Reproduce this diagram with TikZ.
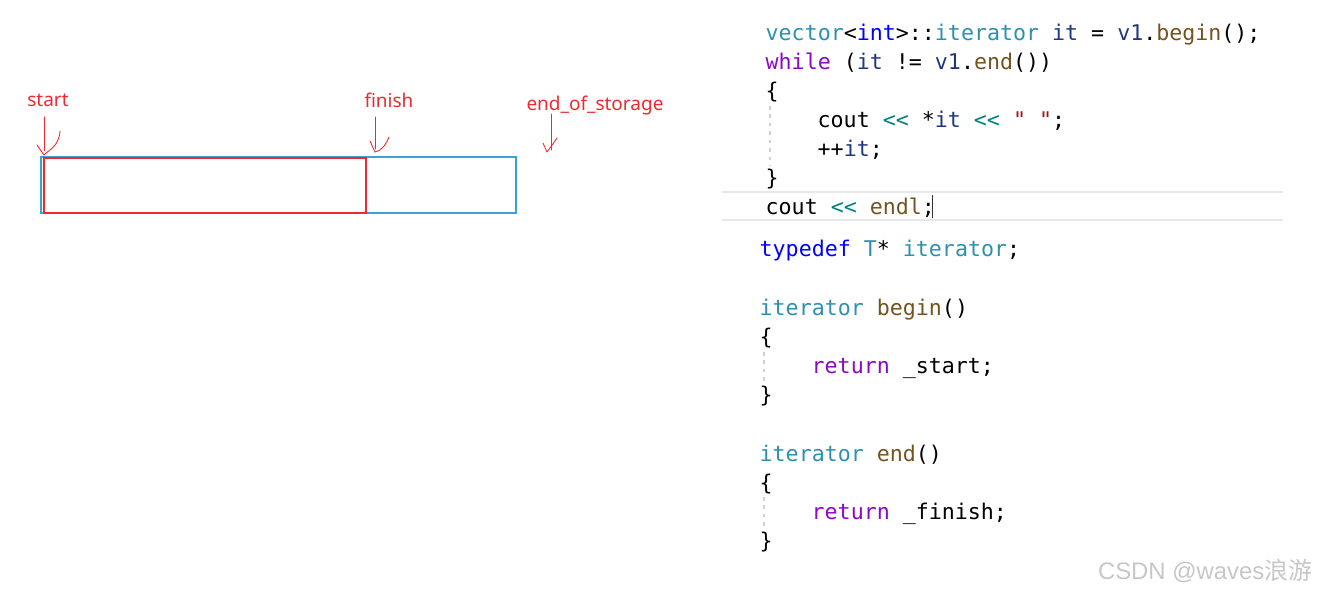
\documentclass[tikz,border=0pt]{standalone}
\usepackage{fontspec}
\setmainfont{Noto Sans}
\setmonofont{DejaVu Sans Mono}
\newfontfamily\wmfont{Liberation Sans}
\newfontfamily\cjk{Noto Sans CJK SC}
\usepackage{tikz}

\definecolor{cType}{HTML}{2B91AF}
\definecolor{cKey}{HTML}{0000FF}
\definecolor{cCtl}{HTML}{8F08C4}
\definecolor{cVar}{HTML}{1F377F}
\definecolor{cFun}{HTML}{74531F}
\definecolor{cOpr}{HTML}{008080}
\definecolor{cStr}{HTML}{A31515}
\definecolor{markred}{HTML}{EE2A30}
\definecolor{boxblue}{HTML}{3AA3D3}
\definecolor{guide}{HTML}{D0D0D0}
\definecolor{sepline}{HTML}{E6E8EC}

\newcommand\ty[1]{\textcolor{cType}{#1}}
\newcommand\kw[1]{\textcolor{cKey}{#1}}
\newcommand\ctl[1]{\textcolor{cCtl}{#1}}
\newcommand\var[1]{\textcolor{cVar}{#1}}
\newcommand\fun[1]{\textcolor{cFun}{#1}}
\newcommand\opr[1]{\textcolor{cOpr}{#1}}
\newcommand\str[1]{\textcolor{cStr}{#1}}

\begin{document}
\begin{tikzpicture}[x=0.01cm, y=-0.01cm]
\tikzstyle{code} = [anchor=base west, inner sep=0pt, font=\ttfamily\fontsize{6.15pt}{7pt}\selectfont]
\tikzstyle{ptrlabel} = [anchor=base, inner sep=0pt, text=markred, font=\fontsize{5.4pt}{6pt}\selectfont]
\tikzstyle{hand} = [draw=markred, line width=0.25pt, line cap=round, line join=round]
\tikzstyle{indent} = [draw=guide, line width=0.3pt, dash pattern=on 1pt off 1.4pt]
\useasboundingbox (0,0) rectangle (1317,593);

% the vector storage
\draw[boxblue, line width=0.35pt] (41,157) rectangle (516,213);
\draw[markred, line width=0.5pt] (44,158) rectangle (366,213);

% pointer labels
\node[ptrlabel] (start) at (48,106) {start};
\node[ptrlabel] (finish) at (389,107) {finish};
\node[ptrlabel] (storage) at (595,110) {end\_of\_storage};

% hand drawn arrows
\coordinate (tip_s) at (44,155);
\coordinate (tip_f) at (375,152);
\coordinate (tip_e) at (547,152);
\path[hand] (44,117) -- (44,151);
\path[hand] (37,145) -- (tip_s);
\path[hand] (60,131) .. controls (59,146) and (50,149) .. (tip_s);
\path[hand] (375,117) -- (375,149);
\path[hand] (370,141) -- (tip_f);
\path[hand] (389,137) .. controls (385,147) and (380,151) .. (tip_f);
\path[hand] (551,114) -- (551,150);
\path[hand] (543,143) -- (tip_e);
\path[hand] (557,138) .. controls (553,144) and (550,148) .. (tip_e);

% loop over the vector
\node[code] (l1) at (765,40) {\ty{vector}<\kw{int}>::\ty{iterator} \var{it} = \var{v1}.\fun{begin}();};
\node[code] (l2) at (765,69) {\ctl{while} (\var{it} != \var{v1}.\fun{end}())};
\node[code] (l3) at (765,98) {\{};
\node[code] (l4) at (817,127) {cout \opr{<<} *\var{it} \opr{<<} \str{" "};};
\node[code] (l5) at (817,156) {++\var{it};};
\node[code] (l6) at (765,185) {\}};
\node[code] (l7) at (765,214) {cout \opr{<<} \fun{endl};};
\path[indent] (770,106) -- (770,166);
\draw[sepline, line width=0.5pt] (722,192) -- (1283,192);
\draw[sepline, line width=0.5pt] (722,220) -- (1283,220);
\draw[black!80, line width=0.3pt] ([xshift=-1]l7.base east) ++(0,4) -- ++(0,-23);

% iterator inside vector
\node[code] (t1) at (759,256) {\kw{typedef} \ty{T}* \ty{iterator};};
\node[code] (b1) at (759,315) {\ty{iterator} \fun{begin}()};
\node[code] (b2) at (759,344) {\{};
\node[code] (b3) at (811,373) {\ctl{return} \_start;};
\node[code] (b4) at (759,402) {\}};
\node[code] (e1) at (759,461) {\ty{iterator} \fun{end}()};
\node[code] (e2) at (759,490) {\{};
\node[code] (e3) at (811,519) {\ctl{return} \_finish;};
\node[code] (e4) at (759,548) {\}};
\path[indent] (764,352) -- (764,382);
\path[indent] (764,497) -- (764,527);

\node[anchor=base east, inner sep=0pt, text=black!22, font=\wmfont\fontsize{6.8pt}{7pt}\selectfont] (wm) at (1313,579) {CSDN @waves{\cjk 浪游}};
\end{tikzpicture}
\end{document}
